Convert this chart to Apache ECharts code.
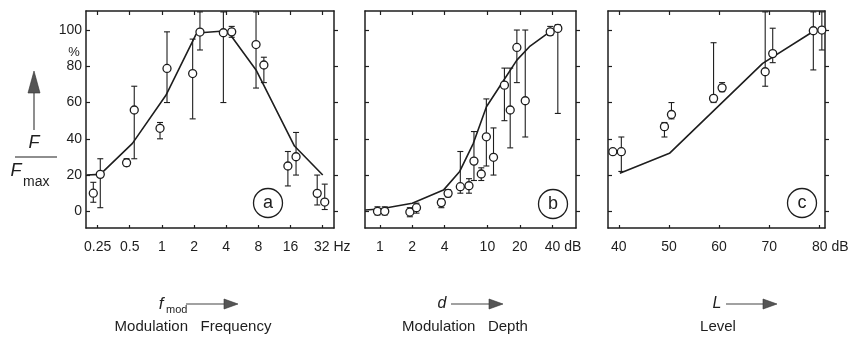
<!DOCTYPE html>
<html>
<head>
<meta charset="utf-8">
<script src="https://cdn.jsdelivr.net/npm/echarts@6/dist/echarts.min.js"></script>
<style>
  html, body { margin: 0; padding: 0; background: #fff; }
  #chart { width: 856px; height: 346px; }
</style>
</head>
<body>
<div id="chart"></div>
<script>
// ---- (a) relative force vs. modulation frequency (Hz, log2 axis) ----
const freqTicks  = [0.25, 0.5, 1, 2, 4, 8, 16, 32];
const freqPts    = [0.228, 0.265, 0.467, 0.551, 0.96, 1.116, 1.94, 2.27, 3.76, 4.5, 7.6, 9.0, 15.1, 18.0, 28.4, 33.4];
const freqVals   = [10, 20.4, 26.8, 55.9, 45.8, 78.8, 76, 98.9, 98.5, 99, 92, 80.7, 25, 30.1, 9.9, 5.1];
const freqLow    = [5, 2, 25, 29, 40, 60, 51, 89, 60, 96, 68, 71, 14, 20, 3.5, 1];
const freqHigh   = [16, 29, 29, 69, 49, 99, 95, 110, 110, 102, 110, 85, 33, 43.5, 20, 15];
const freqCurveX = [0.197, 0.265, 0.53, 1.09, 2.08, 2.3, 3.8, 4.3, 7.6, 17.4, 32];
const freqCurveY = [20, 20.4, 37.5, 64, 97.5, 98.5, 99.5, 98, 78, 36, 20];

// ---- (b) relative force vs. modulation depth (dB, log axis) ----
const depthTicks  = [1, 2, 4, 10, 20, 40];
const depthPts    = [0.95, 1.11, 1.9, 2.19, 3.73, 4.31, 5.6, 6.74, 7.5, 8.77, 9.78, 11.4, 14.4, 16.3, 18.8, 22.5, 38.4, 45.2];
const depthVals   = [0, 0, -0.4, 2, 4.8, 9.9, 13.6, 14.1, 27.7, 20.6, 41.1, 29.8, 69.6, 55.9, 90.4, 61, 99, 100.9];
const depthLow    = [-2, -2, -3, -1, 2, 8, 10, 10, 17, 17, 25, 20, 50, 35, 71, 41, 97, 54];
const depthHigh   = [2.5, 2.5, 2, 4.5, 7, 12, 33, 18, 44, 24, 62, 46, 79, 79, 100, 100, 102, 103];
const depthCurveX = [0.73, 1, 2, 3.9, 5.5, 7.4, 9.8, 13.9, 18.8, 24.6, 38];
const depthCurveY = [0.7, 1.3, 4.5, 11.7, 21.8, 37.5, 57.7, 71.5, 83.4, 90.8, 99];

// ---- (c) relative force vs. level (dB, linear axis) ----
const levelTicks  = [40, 50, 60, 70, 80];
const levelPts    = [38.8, 40.5, 49.1, 50.5, 58.9, 60.6, 69.2, 70.7, 78.8, 80.5];
const levelVals   = [32.9, 32.9, 46.7, 53.4, 62.3, 68.1, 77, 87, 99.6, 100];
const levelLow    = [null, 22, 41, 51, 60, 66, 69, 82, 78, 89];
const levelHigh   = [null, 41, 49, 60, 93, 71, 110, 101, 110, 110];
const levelCurveX = [40.2, 50.1, 68.7, 79];
const levelCurveY = [21, 32, 81.6, 99.6];

// ---- shared y scale (F / Fmax in %) ----
const yTicks = [0, 20, 40, 60, 80, 100];
const Y_MIN = -9.2, Y_MAX = 110.5;

const INK = '#1e1e1e';
const FONT = '"Liberation Sans", Arial, Helvetica, sans-serif';
const log2 = Math.log2;
const ident = v => v;

const grids = [
  { left: 86,  top: 11, width: 248, height: 217 },
  { left: 365, top: 11, width: 211, height: 217 },
  { left: 608, top: 11, width: 217, height: 217 }
];

const panels = [
  { xf: log2, min: -2.36, max: 5.35, ticks: freqTicks, unit: 'Hz', unitPad: 19,
    back: v => Math.round(Math.pow(2, v) * 100) / 100,
    pts: freqPts, vals: freqVals, lo: freqLow, hi: freqHigh, cx: freqCurveX, cy: freqCurveY },
  { xf: log2, min: -0.46, max: 6.06, ticks: depthTicks, unit: 'dB', unitPad: 22,
    back: v => Math.round(Math.pow(2, v)),
    pts: depthPts, vals: depthVals, lo: depthLow, hi: depthHigh, cx: depthCurveX, cy: depthCurveY },
  { xf: ident, min: 37.84, max: 81.13, ticks: levelTicks, unit: 'dB', unitPad: 22,
    back: v => Math.round(v),
    pts: levelPts, vals: levelVals, lo: levelLow, hi: levelHigh, cx: levelCurveX, cy: levelCurveY }
];

const axisLine = { show: true, onZero: false, lineStyle: { color: INK, width: 1.5 } };
const labelText = { color: INK, fontFamily: FONT, fontSize: 14 };

const xAxis = [], yAxis = [], series = [];

panels.forEach((p, i) => {
  const tickVals = p.ticks.map(p.xf);
  const last = p.ticks[p.ticks.length - 1];
  xAxis.push({
    type: 'value', gridIndex: i, position: 'bottom', min: p.min, max: p.max,
    axisLine,
    axisTick: { show: true, inside: true, length: 3, customValues: tickVals, lineStyle: { color: INK, width: 1.2 } },
    axisLabel: Object.assign({
      show: true, margin: 12, customValues: tickVals,
      formatter: v => {
        const t = p.back(v);
        return t === last ? '{pad| }' + t + ' ' + p.unit : String(t);
      },
      rich: { pad: { width: p.unitPad } }
    }, labelText),
    splitLine: { show: false }
  });
  xAxis.push({
    type: 'value', gridIndex: i, position: 'top', min: p.min, max: p.max,
    axisLine,
    axisTick: { show: true, inside: true, length: 4, customValues: tickVals, lineStyle: { color: INK, width: 1.2 } },
    axisLabel: { show: false },
    splitLine: { show: false }
  });
  yAxis.push({
    type: 'value', gridIndex: i, position: 'left', min: Y_MIN, max: Y_MAX,
    axisLine,
    axisTick: { show: true, inside: true, length: 4, customValues: yTicks, lineStyle: { color: INK, width: 1.2 } },
    axisLabel: Object.assign({ show: i === 0, margin: 4, customValues: yTicks }, labelText),
    splitLine: { show: false }
  });
  yAxis.push({
    type: 'value', gridIndex: i, position: 'right', min: Y_MIN, max: Y_MAX,
    axisLine,
    axisTick: { show: true, inside: false, length: 4, customValues: yTicks, lineStyle: { color: INK, width: 1.2 } },
    axisLabel: { show: false },
    splitLine: { show: false }
  });

  // fitted curve
  series.push({
    type: 'line', xAxisIndex: 2 * i, yAxisIndex: 2 * i,
    data: p.cx.map((x, k) => [p.xf(x), p.cy[k]]),
    showSymbol: false, symbol: 'none', silent: true, z: 2,
    lineStyle: { color: INK, width: 1.6 }
  });

  // error bars
  const bars = [];
  p.pts.forEach((x, k) => {
    if (p.lo[k] != null) bars.push([p.xf(x), p.lo[k], p.hi[k]]);
  });
  series.push({
    type: 'custom', xAxisIndex: 2 * i, yAxisIndex: 2 * i, silent: true, z: 3,
    data: bars, encode: { x: 0, y: [1, 2] },
    renderItem: (params, api) => {
      const x = api.value(0);
      const a = api.coord([x, api.value(2)]);
      const b = api.coord([x, api.value(1)]);
      const cap = 3;
      const st = () => ({ stroke: INK, lineWidth: 1.1, fill: null });
      return {
        type: 'group',
        children: [
          { type: 'line', shape: { x1: a[0], y1: a[1], x2: b[0], y2: b[1] }, style: st() },
          { type: 'line', shape: { x1: a[0] - cap, y1: a[1], x2: a[0] + cap, y2: a[1] }, style: st() },
          { type: 'line', shape: { x1: b[0] - cap, y1: b[1], x2: b[0] + cap, y2: b[1] }, style: st() }
        ]
      };
    }
  });

  // measured points
  series.push({
    type: 'scatter', xAxisIndex: 2 * i, yAxisIndex: 2 * i, silent: true, z: 4,
    data: p.pts.map((x, k) => [p.xf(x), p.vals[k]]),
    symbol: 'circle', symbolSize: 8,
    itemStyle: { color: '#fff', borderColor: INK, borderWidth: 1.3, opacity: 1 }
  });
});

// annotation helpers
function txt(x, y, text, size, opts) {
  return Object.assign({
    type: 'text', x, y, silent: true,
    style: Object.assign({ text, fill: INK, font: size + 'px ' + FONT, align: 'center', verticalAlign: 'middle' }, (opts || {}))
  });
}
function hArrow(x1, x2, y) {
  return [
    { type: 'line', silent: true, shape: { x1, y1: y, x2: x2 - 12, y2: y }, style: { stroke: '#444', lineWidth: 1.2 } },
    { type: 'polygon', silent: true, shape: { points: [[x2 - 14, y - 5], [x2, y], [x2 - 14, y + 5]] }, style: { fill: '#555', stroke: '#333', lineWidth: 0.6 } }
  ];
}
function badge(x, y, letter) {
  return [
    { type: 'circle', silent: true, shape: { cx: x, cy: y, r: 14.5 }, style: { fill: 'none', stroke: INK, lineWidth: 1.3 } },
    txt(x, y + 0.5, letter, 18)
  ];
}

const graphic = [].concat(
  // vertical axis title: up arrow and F / Fmax
  [
    { type: 'line', silent: true, shape: { x1: 34, y1: 130, x2: 34, y2: 90 }, style: { stroke: '#444', lineWidth: 1.2 } },
    { type: 'polygon', silent: true, shape: { points: [[28, 93], [34, 71], [40, 93]] }, style: { fill: '#555', stroke: '#333', lineWidth: 0.6 } },
    txt(34, 143, 'F', 18, { font: 'italic 18px ' + FONT }),
    { type: 'line', silent: true, shape: { x1: 15, y1: 157, x2: 57, y2: 157 }, style: { stroke: INK, lineWidth: 1.2 } },
    txt(16, 171, 'F', 18, { font: 'italic 18px ' + FONT }),
    txt(23, 182, 'max', 14, { align: 'left' }),
    txt(74, 52, '%', 13)
  ],
  // axis titles under each panel
  [txt(161, 304, 'f', 17, { font: 'italic 17px ' + FONT }), txt(166, 310, 'mod', 11, { align: 'left' })],
  hArrow(186, 238, 304),
  [txt(193, 327, 'Modulation   Frequency', 15)],
  [txt(442, 304, 'd', 16, { font: 'italic 16px ' + FONT })],
  hArrow(451, 503, 304),
  [txt(465, 327, 'Modulation   Depth', 15)],
  [txt(717, 304, 'L', 16, { font: 'italic 16px ' + FONT })],
  hArrow(726, 777, 304),
  [txt(718, 327, 'Level', 15)],
  badge(268, 203, 'a'),
  badge(553, 204, 'b'),
  badge(802, 203, 'c')
);

const chart = echarts.init(document.getElementById('chart'), null, { renderer: 'canvas' });
chart.setOption({
  backgroundColor: '#fff',
  animation: false,
  grid: grids,
  xAxis,
  yAxis,
  series,
  graphic
});
</script>
</body>
</html>
